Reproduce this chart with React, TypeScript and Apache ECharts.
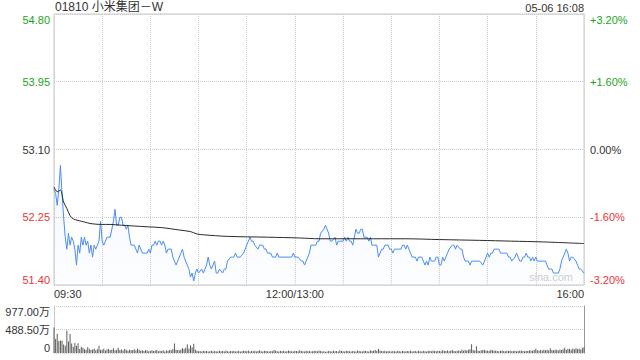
import React, { useEffect, useRef } from "react";
import * as echarts from "echarts";

const stockTitle = "01810 小米集团－W";
const stampText = "05-06 16:08";
const watermark = "sina.com";
const prevClose = 53.1;
const priceMin = 51.4;
const priceMax = 54.8;
const pctMax = 3.2;
const pctStep = 1.6;
const volMax = 977;
const volStep = 488.5;
const sessionMinutes = 330;
const timeTicks: [number, string][] = [
  [0, "09:30"],
  [150, "12:00/13:00"],
  [330, "16:00"],
];

// [minute from 09:30 (lunch removed), price]
const pricePoints: [number, number][] = [
  [0, 52.6], [1, 52.55], [2, 52.4], [3, 52.6], [4, 52.9], [5, 52.55], [6, 52.25], [7, 52.0], [8, 51.85], [9, 52.05],
  [10, 51.9], [11, 52.0], [12, 51.95], [13, 51.85], [14, 51.65], [15, 51.9], [16, 51.8], [17, 52.0], [18, 51.9], [19, 52.0],
  [20, 51.9], [21, 51.95], [22, 51.8], [23, 51.9], [24, 51.75], [25, 51.9], [26, 51.85], [27, 51.9], [28, 51.95], [29, 52.2],
  [30, 51.95], [31, 51.9], [32, 51.95], [33, 52.0], [35, 52.0], [36, 52.1], [37, 52.2], [38, 52.35], [39, 52.15], [40, 52.15],
  [41, 52.25], [42, 52.25], [43, 52.15], [44, 52.15], [45, 52.1], [46, 52.15], [47, 52.0], [48, 51.9], [50, 51.9], [51, 51.85],
  [52, 51.8], [53, 51.9], [54, 51.85], [55, 51.8], [57, 51.8], [58, 51.8], [59, 51.85], [60, 51.8], [61, 51.9], [62, 51.9],
  [63, 51.95], [64, 51.9], [65, 51.95], [66, 51.95], [67, 51.9], [68, 51.95], [69, 51.9], [70, 51.8], [71, 51.85], [73, 51.85],
  [74, 51.75], [75, 51.7], [76, 51.65], [77, 51.7], [78, 51.75], [79, 51.8], [80, 51.85], [81, 51.75], [82, 51.7], [83, 51.65],
  [84, 51.6], [85, 51.5], [86, 51.55], [87, 51.45], [88, 51.55], [89, 51.6], [90, 51.55], [92, 51.6], [93, 51.55], [94, 51.6],
  [95, 51.65], [96, 51.75], [97, 51.65], [98, 51.6], [100, 51.7], [101, 51.55], [102, 51.55], [103, 51.6], [105, 51.55], [106, 51.6],
  [107, 51.6], [108, 51.7], [110, 51.75], [111, 51.75], [112, 51.75], [113, 51.8], [114, 51.75], [116, 51.75], [118, 51.8], [119, 51.85],
  [120, 51.9], [122, 52.0], [123, 51.95], [124, 51.95], [125, 51.9], [127, 51.85], [128, 51.9], [130, 51.9], [131, 51.85], [132, 51.85],
  [133, 51.8], [135, 51.8], [136, 51.75], [138, 51.75], [139, 51.8], [140, 51.75], [143, 51.75], [146, 51.75], [148, 51.75], [149, 51.8],
  [150, 51.75], [152, 51.75], [154, 51.7], [155, 51.7], [156, 51.65], [158, 51.75], [159, 51.8], [160, 51.9], [162, 51.9], [163, 51.9],
  [164, 51.95], [165, 51.95], [166, 52.05], [168, 52.1], [169, 52.15], [170, 52.1], [171, 52.05], [172, 51.95], [173, 51.95], [175, 52.0],
  [176, 51.9], [177, 51.95], [178, 51.95], [180, 51.95], [181, 52.0], [182, 51.95], [183, 52.0], [184, 51.95], [185, 51.95], [186, 51.9],
  [188, 52.1], [189, 52.05], [190, 52.05], [191, 52.1], [192, 52.1], [193, 52.0], [195, 52.0], [196, 51.95], [197, 52.0], [198, 51.9],
  [199, 51.9], [201, 51.9], [202, 51.75], [203, 51.8], [204, 51.85], [205, 51.85], [206, 51.9], [208, 51.9], [209, 51.85], [210, 51.85],
  [211, 51.8], [212, 51.85], [214, 51.85], [216, 51.85], [217, 51.9], [218, 51.9], [219, 51.85], [220, 51.9], [221, 51.85], [222, 51.8],
  [223, 51.75], [225, 51.75], [226, 51.7], [227, 51.75], [229, 51.75], [230, 51.7], [231, 51.65], [232, 51.7], [233, 51.65], [234, 51.75],
  [235, 51.7], [237, 51.7], [238, 51.75], [239, 51.75], [240, 51.65], [241, 51.65], [242, 51.75], [243, 51.7], [244, 51.75], [245, 51.8],
  [246, 51.85], [248, 51.9], [249, 51.9], [250, 51.85], [251, 51.9], [253, 51.85], [254, 51.85], [255, 51.75], [256, 51.7], [258, 51.7],
  [259, 51.65], [260, 51.7], [262, 51.7], [264, 51.7], [265, 51.7], [267, 51.65], [268, 51.7], [269, 51.75], [270, 51.8], [271, 51.75],
  [272, 51.8], [273, 51.8], [274, 51.85], [275, 51.85], [276, 51.85], [277, 51.85], [278, 51.8], [280, 51.8], [281, 51.8], [282, 51.8],
  [283, 51.75], [284, 51.75], [285, 51.7], [287, 51.75], [288, 51.8], [289, 51.75], [290, 51.7], [291, 51.7], [292, 51.75], [293, 51.75],
  [294, 51.8], [295, 51.75], [296, 51.75], [297, 51.7], [298, 51.75], [299, 51.7], [300, 51.75], [301, 51.7], [302, 51.7], [304, 51.7],
  [306, 51.7], [307, 51.65], [308, 51.6], [310, 51.6], [311, 51.55], [312, 51.55], [313, 51.55], [314, 51.55], [315, 51.6], [316, 51.7],
  [317, 51.75], [318, 51.8], [319, 51.85], [320, 51.8], [321, 51.7], [322, 51.75], [323, 51.75], [325, 51.7], [326, 51.65], [327, 51.6],
  [328, 51.6], [330, 51.55],
];

// [minute, average price]
const avgPoints: [number, number][] = [
  [0, 52.63], [2, 52.57], [4, 52.59], [6, 52.44], [8, 52.36], [10, 52.27], [12, 52.23], [15, 52.21], [19, 52.19], [23, 52.17],
  [29, 52.16], [35, 52.16], [42, 52.15], [50, 52.14], [58, 52.13], [67, 52.12], [78, 52.09], [85, 52.07], [89, 52.04], [93, 52.03],
  [108, 52.01], [133, 52.0], [153, 51.99], [165, 51.98], [199, 51.98], [219, 51.98], [240, 51.97], [265, 51.96], [285, 51.95], [305, 51.94],
  [330, 51.92],
];

// per-minute volume, 万股
const volumeValues: number[] = [
  531, 290, 400, 250, 260, 255, 175, 150, 470, 240, 395, 200, 130, 210, 150, 205, 85, 130, 110, 80,
  70, 120, 90, 60, 75, 95, 55, 80, 150, 70, 65, 90, 50, 75, 85, 60, 70, 100, 55, 65,
  110, 60, 75, 50, 85, 65, 45, 70, 55, 60, 80, 50, 90, 70, 45, 55, 40, 60, 50, 35,
  45, 55, 40, 50, 60, 35, 45, 40, 55, 30, 50, 45, 60, 55, 85, 200, 70, 60, 55, 75,
  100, 85, 110, 180, 95, 160, 120, 190, 75, 45, 35, 40, 30, 45, 35, 40, 30, 35, 45, 30,
  40, 35, 30, 45, 35, 40, 30, 50, 35, 30, 40, 35, 45, 30, 35, 40, 30, 35, 45, 40,
  35, 50, 30, 40, 35, 45, 30, 40, 55, 35, 30, 45, 40, 35, 30, 40, 35, 60, 45, 35,
  30, 40, 35, 45, 30, 35, 50, 40, 35, 30, 45, 40, 35, 55, 40, 35, 30, 45, 35, 40,
  30, 35, 45, 40, 35, 50, 40, 30, 35, 25, 30, 40, 35, 30, 45, 35, 40, 30, 55, 40,
  35, 30, 45, 40, 35, 30, 40, 35, 30, 50, 40, 35, 30, 45, 40, 35, 30, 55, 40, 45,
  60, 45, 90, 50, 40, 35, 45, 30, 40, 35, 30, 40, 35, 30, 45, 35, 30, 40, 35, 30,
  40, 35, 45, 30, 35, 40, 30, 45, 35, 30, 40, 35, 30, 45, 40, 35, 50, 40, 35, 45,
  40, 35, 55, 45, 40, 50, 35, 45, 60, 40, 35, 45, 50, 40, 65, 45, 60, 50, 70, 80,
  183, 60, 50, 140, 45, 40, 55, 60, 70, 45, 50, 40, 65, 55, 45, 50, 40, 35, 45, 50,
  40, 35, 45, 40, 50, 35, 40, 45, 35, 40, 50, 45, 40, 35, 45, 40, 55, 45, 50, 60,
  90, 55, 45, 60, 50, 70, 55, 65, 50, 100, 60, 55, 70, 65, 50, 75, 60, 80, 110, 70,
  90, 85, 70, 95, 80, 100, 85, 90, 75, 110, 120,
];

const FONT = "'Liberation Sans', Arial, 'Noto Sans CJK SC', sans-serif";
const UP = "#1ca41c";
const DOWN = "#e93535";
const TEXT = "#333";

export default function App() {
  const ref = useRef<HTMLDivElement>(null);

  useEffect(() => {
    if (!ref.current) return;
    const chart = echarts.init(ref.current, null, { renderer: "svg" });
    const tickMap: Record<number, string> = {};
    timeTicks.forEach(([m, t]) => (tickMap[m] = t));
    const pctColor = (v: number) => (Math.abs(v) < 1e-6 ? TEXT : v > 0 ? UP : DOWN);
    const dotted = { color: "#cccccc", type: "dotted" as any, width: 1 };

    chart.setOption({
      animation: false,
      textStyle: { fontFamily: FONT },
      grid: [
        { left: 54, right: 56, top: 14, height: 271, show: true, borderColor: "#c8c8c8", borderWidth: 1 },
        { left: 54, right: 56, top: 306, height: 47, show: false },
      ],
      xAxis: [
        {
          type: "value",
          gridIndex: 0,
          min: 0,
          max: sessionMinutes,
          interval: 30,
          axisLine: { show: false },
          axisTick: { show: false },
          splitLine: { show: true, lineStyle: dotted },
          axisLabel: {
            show: true,
            margin: 3,
            fontSize: 11,
            fontFamily: FONT,
            color: TEXT,
            alignMinLabel: "left",
            alignMaxLabel: "right",
            formatter: (v: number) => tickMap[Math.round(v)] ?? "",
          },
        },
        {
          type: "value",
          gridIndex: 1,
          min: 0,
          max: sessionMinutes,
          interval: 30,
          show: false,
        },
      ],
      yAxis: [
        {
          type: "value",
          gridIndex: 0,
          min: priceMin,
          max: priceMax,
          show: false,
        },
        {
          type: "value",
          gridIndex: 0,
          position: "left",
          min: -pctMax,
          max: pctMax,
          interval: pctStep,
          axisLine: { show: false },
          axisTick: { show: false },
          splitLine: { show: true, lineStyle: dotted },
          axisLabel: {
            margin: 4,
            fontSize: 11,
            fontFamily: FONT,
            verticalAlignMinLabel: "bottom",
            verticalAlignMaxLabel: "top",
            color: (v: any) => pctColor(Number(v)),
            formatter: (v: number) => (prevClose * (1 + v / 100)).toFixed(2),
          },
        },
        {
          type: "value",
          gridIndex: 0,
          position: "right",
          min: -pctMax,
          max: pctMax,
          interval: pctStep,
          axisLine: { show: false },
          axisTick: { show: false },
          splitLine: { show: false },
          axisLabel: {
            margin: 6,
            fontSize: 11,
            fontFamily: FONT,
            verticalAlignMinLabel: "bottom",
            verticalAlignMaxLabel: "top",
            color: (v: any) => pctColor(Number(v)),
            formatter: (v: number) =>
              Math.abs(v) < 1e-6 ? "0.00%" : (v > 0 ? "+" : "") + v.toFixed(2) + "%",
          },
        },
        {
          type: "value",
          gridIndex: 1,
          position: "left",
          min: 0,
          max: volMax,
          interval: volStep,
          axisLine: { show: true, lineStyle: { color: "#c8c8c8" } },
          axisTick: { show: false },
          splitLine: { show: true, lineStyle: dotted },
          axisLabel: {
            margin: 4,
            fontSize: 11,
            fontFamily: FONT,
            color: TEXT,
            verticalAlignMinLabel: "bottom",
            verticalAlignMaxLabel: "top",
            formatter: (v: number) => (v === 0 ? "0" : v.toFixed(2) + "万"),
          },
        },
        {
          type: "value",
          gridIndex: 1,
          position: "right",
          min: 0,
          max: volMax,
          axisLine: { show: true, lineStyle: { color: "#999" } },
          axisTick: { show: false },
          axisLabel: { show: false },
          splitLine: { show: false },
        },
      ],
      graphic: [
        {
          type: "text",
          left: 55,
          top: 1,
          style: { text: stockTitle, font: `12px ${FONT}`, fill: TEXT },
        },
        {
          type: "text",
          right: 56,
          top: 2,
          style: { text: stampText, font: `11px ${FONT}`, fill: TEXT },
        },
        {
          type: "text",
          right: 67,
          top: 271,
          z: 1,
          style: { text: watermark, font: `11px ${FONT}`, fill: "#cfcfcf" },
        },
      ],
      series: [
        {
          type: "line",
          name: "price",
          xAxisIndex: 0,
          yAxisIndex: 0,
          data: pricePoints,
          symbol: "none",
          silent: true,
          lineStyle: { color: "#4a8cf5", width: 1 },
          areaStyle: {
            color: new echarts.graphic.LinearGradient(0, 0, 0, 1, [
              { offset: 0, color: "rgba(79,143,245,0.10)" },
              { offset: 1, color: "rgba(79,143,245,0.02)" },
            ]),
          },
          z: 3,
        },
        {
          type: "line",
          name: "avg",
          xAxisIndex: 0,
          yAxisIndex: 0,
          data: avgPoints,
          symbol: "none",
          silent: true,
          smooth: 0.3,
          lineStyle: { color: "#2a2a2a", width: 1 },
          z: 4,
        },
        {
          type: "bar",
          name: "volume",
          xAxisIndex: 1,
          yAxisIndex: 3,
          data: volumeValues.map((v, i) => [i, v]),
          barWidth: 1,
          silent: true,
          itemStyle: { color: "#5c5c5c" },
        },
      ],
    });
    return () => chart.dispose();
  }, []);

  return (
    <div
      ref={ref}
      style={{ position: "absolute", left: 0, top: 0, width: 640, height: 360, background: "#fff" }}
    />
  );
}
